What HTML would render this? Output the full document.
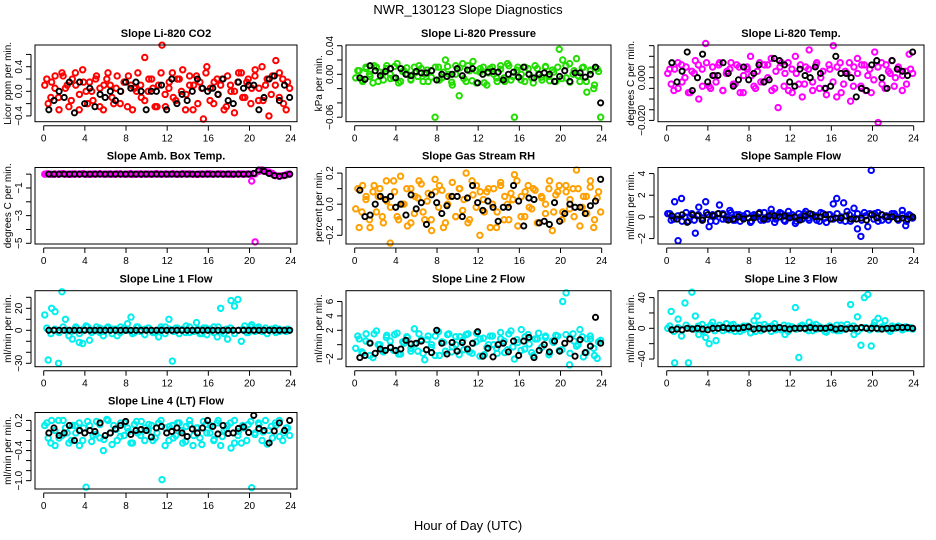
<!DOCTYPE html>
<html><head><meta charset="utf-8"><style>
html,body{margin:0;padding:0;background:#fff;}
svg{display:block;font-family:"Liberation Sans",Arial,sans-serif;}
</style></head><body>
<svg id="chart" width="936" height="540" viewBox="0 0 936 540" xmlns="http://www.w3.org/2000/svg">
<rect x="0" y="0" width="936" height="540" fill="#fff"/>
<text x="468" y="14" font-size="13" text-anchor="middle">NWR_130123  Slope Diagnostics</text>
<text x="468" y="530" font-size="13" text-anchor="middle">Hour of Day (UTC)</text>
</svg>
<script>
// ---- data (colored = all samples in two interleaved sets, black = half-hourly summary) ----
const xTicks = [0,4,8,12,16,20,24];
const co2Color = [0.1,-0.2,0.15,0.25,-0.1,0.3,0.05,-0.25,0.2,0.1,-0.3,0.35,0.0,0.15,-0.15,0.25,0.05,-0.3,0.2,0.1,-0.2,0.25,0.0,0.15,-0.25,0.1,0.05,0.3,-0.1,0.55,0.0,0.2,-0.25,0.1,0.75,-0.25,0.05,0.3,-0.15,0.2,0.35,-0.05,0.1,-0.3,0.25,0.15,-0.45,0.4,0.05,-0.2,0.2,0.1,-0.3,0.25,0.0,-0.35,0.15,0.3,-0.1,0.2,0.05,0.35,-0.15,0.4,0.1,-0.4,0.25,0.5,-0.1,0.2,-0.3,0.05];
const co2Color2 = [0.2,-0.1,0.05,-0.3,0.25,0.1,-0.15,0.3,-0.05,0.15,-0.2,0.0,0.2,-0.25,0.1,0.3,-0.1,0.05,-0.2,0.15,0.25,-0.3,0.0,0.1,-0.15,0.2,0.05,-0.25,0.3,-0.05,0.15,-0.1,0.2,0.0,-0.3,0.25,0.1,-0.2,0.05,0.3,-0.15,0.15,-0.05,0.2,-0.25,0.1,0.0,0.3,-0.1,0.15,-0.2,0.25,0.05,-0.15,0.2,-0.05,0.1,0.3,-0.2,0.15];
const co2Black = [-0.3,-0.15,0.0,-0.1,0.15,-0.35,0.15,-0.2,0.05,-0.25,-0.05,-0.1,0.0,-0.15,0.0,0.15,0.05,0.15,0.0,-0.3,0.0,0.0,0.1,-0.3,0.2,-0.2,-0.05,-0.15,0.0,0.2,0.05,0.0,0.05,-0.05,0.2,-0.15,-0.2,0.15,0.05,0.1,0.1,-0.3,-0.1,0.2,0.25,-0.15,0.1,-0.1];
const presColor = [-0.005,0.005,-0.01,0.008,0.0,-0.012,0.01,0.003,-0.008,0.012,0.0,-0.005,0.015,-0.01,0.005,0.0,-0.008,0.01,-0.003,0.008,0.0,-0.01,0.005,-0.06,0.01,-0.005,0.02,0.0,-0.015,0.012,-0.03,0.015,-0.01,0.005,0.018,-0.012,0.003,0.01,-0.015,0.008,0.0,-0.01,0.012,-0.005,0.015,-0.008,-0.06,0.01,0.0,-0.01,0.008,-0.005,0.012,0.0,-0.008,0.01,-0.003,0.006,-0.01,0.035,0.02,-0.005,0.015,0.0,0.022,-0.01,0.01,-0.025,0.005,-0.02,0.008,-0.06];
const presColor2 = [0.005,-0.008,0.01,-0.003,0.012,-0.01,0.0,0.008,-0.006,0.011,-0.012,0.004,0.009,-0.007,0.002,0.012,-0.01,0.006,-0.004,0.01,-0.008,0.003,0.011,-0.011,0.0,0.009,-0.006,0.012,-0.009,0.005,0.008,-0.012,0.002,0.01,-0.005,0.007,-0.01,0.012,-0.003,0.006,-0.008,0.01,0.0,-0.012,0.008,-0.004,0.011,-0.009,0.003,0.01,-0.006,0.012,-0.011,0.005,-0.002,0.009,-0.01,0.006,-0.015,0.004];
const presBlack = [-0.005,-0.007,0.012,0.005,-0.002,0.004,0.008,-0.005,0.008,0.0,-0.002,0.004,0.002,0.002,0.005,-0.008,0.0,-0.003,0.0,0.008,-0.002,0.006,0.008,-0.012,0.0,0.003,0.004,0.003,-0.008,0.0,0.003,-0.004,0.01,0.0,-0.005,0.0,0.002,0.0,-0.01,-0.003,0.005,-0.01,0.002,0.002,-0.004,0.0,0.01,-0.04];
const tempColor = [0.002,-0.003,0.004,-0.005,0.006,0.0,-0.007,0.003,0.008,-0.01,0.004,0.016,-0.004,0.005,-0.002,0.007,-0.006,0.002,0.004,-0.003,0.006,-0.007,0.001,0.005,0.01,-0.004,0.003,-0.002,0.006,0.0,0.009,-0.005,-0.014,0.007,0.002,-0.006,0.004,0.01,-0.003,-0.009,0.005,0.013,-0.002,0.006,-0.005,0.003,-0.008,0.004,0.015,-0.009,0.007,-0.003,0.002,-0.011,0.005,0.009,-0.004,0.006,0.001,-0.007,0.012,-0.021,0.007,-0.005,0.003,0.008,0.0,0.004,-0.006,0.003,0.011,0.002];
const tempColor2 = [0.004,-0.006,0.007,-0.002,0.005,-0.007,0.002,0.006,-0.004,0.007,-0.005,0.001,0.006,-0.006,0.003,0.007,-0.003,0.005,-0.007,0.004,0.001,-0.005,0.007,-0.002,0.006,-0.006,0.003,0.005,-0.004,0.007,-0.007,0.002,0.006,-0.003,0.004,-0.006,0.007,0.0,-0.005,0.006,-0.002,0.005,-0.007,0.003,0.007,-0.004,0.002,0.006,-0.006,0.004,-0.001,0.005,-0.003,0.006,0.002,-0.004,0.005,0.001,-0.003,0.004];
const tempBlack = [0.007,-0.002,0.003,0.012,-0.006,0.0,0.011,-0.002,0.001,0.001,0.007,0.002,-0.004,-0.001,0.005,-0.001,0.002,0.006,-0.002,-0.001,0.009,0.008,0.006,-0.002,-0.004,0.004,0.001,0.0,0.005,0.002,-0.005,-0.004,0.01,0.002,0.002,0.0,-0.009,-0.005,-0.006,0.006,0.008,0.0,-0.005,0.008,0.004,0.003,0.001,0.012];
const ambColor = [0,0.02,-0.02,0.01,0,0.03,0,-0.01,0.02,0,0.01,0.03,-0.02,0,0.01,0,0.02,-0.01,0,0.01,0,0.02,0,-0.01,0,0.03,0,0.01,-0.02,0,0.01,0,0.02,0,-0.01,0.01,0,0.02,-0.01,0,0.03,0,0.01,0,-0.02,0.01,0,0.02,0,-0.01,0.01,0.02,0,0.01,-0.02,0,0.01,0.02,0,0.01,-0.5,-4.9,0.25,0.3,0.2,0.15,0.05,-0.1,-0.15,-0.1,-0.05,0];
const ambColor2 = [0.02,0,-0.01,0.01,0.03,0,-0.02,0.01,0,0.02,0,-0.01,0.01,0.03,0,0.01,-0.01,0,0.02,0,0.01,-0.02,0,0.02,0.01,0,-0.01,0.03,0,0.01,0,0.02,-0.01,0,0.01,0.02,0,-0.02,0.01,0,0.03,0,0.01,-0.01,0,0.02,0,0.01,0,0.01,0,0.02,0.2,0.28,0.15,0.05,-0.1,-0.15,-0.1,0];
const ambBlack = [0,0,0,0,0,0,0,0,0,0,0,0,0,0,0,0,0,0,0,0,0,0,0,0,0,0,0,0,0,0,0,0,0,0,0,0,0,0,0,0,0.05,0.3,0.2,0.05,-0.1,-0.15,-0.1,0];
const rhColor = [-0.03,-0.15,0.12,0.05,-0.1,0.08,-0.05,0.1,-0.12,0.02,-0.25,0.15,-0.08,0.18,0.0,-0.14,0.1,-0.06,0.04,0.13,-0.1,0.07,-0.17,0.16,-0.02,0.09,-0.12,0.05,0.14,-0.08,0.1,-0.04,0.2,-0.1,0.06,0.12,-0.2,0.03,0.08,-0.15,0.1,-0.05,0.14,-0.1,0.0,0.07,0.19,-0.14,0.05,-0.08,0.12,-0.03,0.09,-0.12,0.04,-0.06,0.1,-0.17,0.06,0.12,-0.05,0.08,-0.03,0.1,0.22,-0.14,0.05,-0.06,0.11,-0.15,0.04,-0.05];
const rhColor2 = [0.1,-0.05,0.03,-0.15,0.12,0.05,-0.08,0.15,-0.02,0.08,-0.1,0.0,0.1,-0.12,0.05,0.15,-0.05,0.02,-0.1,0.08,0.12,-0.15,0.0,0.05,-0.08,0.1,0.03,-0.12,0.15,-0.02,0.08,-0.05,0.1,0.0,-0.15,0.12,0.05,-0.1,0.03,0.15,-0.08,0.08,-0.02,0.1,-0.12,0.05,0.0,0.15,-0.05,0.08,-0.1,0.12,0.03,-0.08,0.1,-0.02,0.05,0.15,-0.1,0.08];
const rhBlack = [0.09,-0.08,-0.07,0.0,0.05,0.03,0.05,-0.02,0.0,-0.07,0.06,-0.03,0.01,-0.13,0.06,0.01,-0.06,-0.01,0.05,0.05,-0.08,0.04,0.12,0.01,-0.04,0.02,-0.02,-0.11,-0.02,-0.02,0.12,0.02,-0.14,0.04,0.03,-0.12,-0.11,-0.13,0.01,-0.11,-0.06,0.0,-0.02,-0.02,-0.06,-0.01,0.02,0.16];
const sampColor = [0.3,-0.3,1.4,-2.2,1.7,0.0,-0.4,0.3,-1.5,0.9,-0.3,1.4,-0.9,0.2,-0.4,1.1,0.3,-0.2,0.6,-0.3,0.2,-0.4,0.1,0.3,-0.5,0.2,0.0,-0.3,0.4,-0.2,0.7,-0.5,0.2,0.3,-0.4,0.5,0.0,-0.6,0.3,-0.2,0.5,-0.3,0.2,0.1,-0.4,0.3,-0.5,0.2,1.2,1.7,-0.3,1.3,0.5,-0.4,0.8,-1.1,-1.8,0.4,-0.9,4.3,0.3,-0.4,0.2,0.0,-0.3,0.3,0.1,-0.2,0.6,-0.8,0.2,-0.1];
const sampColor2 = [0.3,-0.2,0.1,-0.4,0.4,0.0,-0.3,0.2,-0.1,0.4,-0.4,0.1,0.3,-0.2,0.0,0.4,-0.3,0.2,-0.1,0.3,-0.4,0.1,0.4,-0.3,0.0,0.3,-0.2,0.4,-0.3,0.1,0.2,-0.4,0.0,0.3,-0.1,0.2,-0.3,0.4,-0.1,0.2,-0.2,0.3,0.0,-0.4,0.2,-0.1,0.3,-0.3,0.1,0.3,-0.2,0.4,-0.3,0.1,0.0,0.3,-0.3,0.2,-0.4,0.1];
const sampBlack = [0.1,-0.2,0.2,-0.5,0.2,0.1,-0.3,0.2,0.1,0.3,0.2,-0.3,-0.2,0.0,-0.2,-0.1,-0.1,0.3,-0.2,0.1,0.1,0.0,0.1,-0.1,0.0,-0.3,0.1,0.3,0.0,0.0,0.2,-0.2,-0.1,-0.1,0.1,-0.2,-0.2,-0.1,-0.3,0.2,-0.1,0.2,0.0,0.0,-0.2,-0.1,-0.2,0.0];
const l1Color = [14,-27,20,17,-30,35,10,-5,-8,3,-11,-12,4,-9,0,3,-2,-5,2,0,1,-5,3,0,6,12,-2,3,0,-4,2,0,-2,-6,1,3,10,-28,2,-3,1,4,-2,0,7,-3,2,-4,1,3,-6,20,-3,-8,27,22,28,-10,4,-2,5,0,3,-1,2,0,1,-2,1,0,-1,0];
const l1Color2 = [2,-3,1,-2,3,0,-1,2,-3,1,3,-2,0,2,-1,3,-3,1,-2,2,0,-3,3,-1,1,2,-2,0,3,-3,1,-1,2,0,-2,3,-1,1,-3,2,0,-2,3,-1,1,2,-3,0,1,-2,3,-1,2,0,-3,1,2,-1,0,1];
const l1Black = [0,0,0,0,0,0,0,0,0,0,0,0,0,0,0,0,0,0,0,0,0,0,0,0,0,0,0,0,0,0,0,0,0,0,0,0,0,0,0,0,0,0,0,0,0,0,0,0];
const l2Color = [-0.5,0.8,-1.2,1.5,0.3,-1.8,1.9,0.0,-1.0,1.3,0.5,-0.8,1.6,-1.3,0.2,1.0,-0.5,2.2,-0.9,0.7,-2.1,1.2,0.0,-1.5,1.8,0.4,-0.9,1.5,-0.3,1.1,-1.4,0.6,1.4,-1.0,0.2,1.6,-1.6,0.9,-0.4,1.2,0.0,-1.2,1.7,0.5,-0.7,1.9,-2.0,0.3,2.1,-0.6,1.4,-1.1,0.8,1.6,-0.3,1.0,-1.4,0.5,1.3,-0.8,6.0,7.2,-2.8,1.5,-0.2,2.1,-1.7,0.8,1.2,-0.5,-1.9,0.6];
const l2Color2 = [1.2,-1.0,0.5,-1.5,1.5,0.0,-0.8,1.0,-0.3,1.4,-1.3,0.4,1.1,-0.9,0.1,1.5,-1.2,0.7,-0.4,1.2,-1.5,0.3,1.4,-1.0,0.0,1.1,-0.7,1.5,-1.2,0.4,0.8,-1.4,0.0,1.2,-0.5,0.8,-1.1,1.5,-0.3,0.7,-0.8,1.1,0.1,-1.5,0.8,-0.4,1.2,-1.1,0.3,1.2,-0.7,1.4,-1.2,0.5,0.0,1.1,-1.1,0.8,-1.5,0.4];
const l2Black = [-1.8,-1.5,0.2,-1.2,-0.6,-0.8,-0.4,-0.8,-0.6,0.6,0.1,0.2,0.5,-0.7,-1.1,2.0,0.2,-1.3,0.3,-0.9,0.3,-0.6,0.2,1.8,-1.6,-0.5,-1.7,0.0,0.2,-1.0,0.5,-1.5,0.5,1.0,-1.8,-0.8,0.0,-1.0,0.5,-0.9,0.2,0.8,-1.6,0.7,-1.1,-0.2,3.8,0.2];
const l3Color = [0,22,-45,12,-10,33,-45,47,16,-8,5,-12,-20,8,-16,4,-3,6,-2,5,0,-4,3,0,-6,10,16,-3,5,2,-4,6,0,-2,-8,3,2,27,-38,4,-1,8,-3,5,2,0,-5,3,-2,4,-3,0,5,31,-8,15,-22,40,44,-23,8,13,0,10,-2,3,0,1,-2,2,0,-1];
const l3Color2 = [3,-4,1,-2,4,0,-1,3,-4,1,4,-3,0,2,-1,4,-4,1,-2,3,0,-4,4,-1,1,3,-2,0,4,-4,1,-1,3,0,-3,4,-1,1,-4,2,0,-3,4,-1,1,3,-4,0,1,-2,4,-1,2,0,-4,1,3,-1,0,1];
const l3Black = [-2,-1,-2,0,-1,0,-1,-2,0,0,1,0,0,0,1,2,-1,0,-1,0,0,1,0,-1,0,0,0,1,0,0,0,1,-1,0,-1,0,0,1,0,0,0,-1,0,0,1,1,1,0];
const l4Color = [0.1,-0.15,0.2,-0.3,0.2,-0.1,0.05,-0.25,0.1,-0.05,0.15,-0.2,-1.13,0.1,-0.1,0.18,-0.15,-0.4,0.22,-0.05,0.1,-0.2,0.15,-0.1,0.05,-0.25,0.12,-0.05,0.18,-0.2,0.0,0.1,-0.15,0.15,-0.98,0.05,-0.2,0.1,-0.1,0.15,-0.25,0.08,0.12,-0.3,0.05,-0.15,0.18,-0.05,0.1,-0.2,0.15,-0.3,0.0,0.1,-0.35,0.2,-0.1,-0.25,0.05,0.12,-1.14,-0.05,0.15,-0.2,0.2,0.0,-0.15,0.1,0.2,-0.2,0.05,-0.1];
const l4Color2 = [0.15,-0.25,0.0,-0.15,0.2,-0.05,-0.2,0.1,-0.3,0.05,0.18,-0.22,-0.08,0.12,-0.18,0.2,-0.28,0.02,-0.12,0.15,-0.02,-0.25,0.18,-0.1,0.05,0.12,-0.2,-0.05,0.2,-0.3,0.08,-0.15,0.15,0.0,-0.22,0.2,-0.1,0.05,-0.28,0.12,-0.05,-0.18,0.2,-0.12,0.03,0.15,-0.25,-0.02,0.1,-0.2,0.18,-0.08,0.12,-0.03,-0.27,0.08,0.15,-0.12,-0.05,0.05];
const l4Black = [-0.05,0.05,-0.1,-0.05,0.1,-0.2,0.0,-0.05,0.0,-0.02,0.15,-0.1,-0.05,0.03,0.1,0.18,-0.08,0.0,0.02,0.0,-0.13,0.05,0.08,-0.05,-0.02,0.05,-0.05,-0.12,0.03,-0.05,0.05,0.2,0.08,-0.07,0.1,-0.06,-0.05,0.04,0.07,-0.04,0.3,0.04,0.0,-0.25,-0.01,0.15,0.0,0.2];

// ---- panel layout ----
const panels = [
 {name:'co2',col:0,row:0,title:'Slope Li-820 CO2',ylab:'Licor ppm per min.',top:0.753,bot:-0.494,ticks:[-0.4,-0.2,0,0.2,0.4,0.6],labs:['-0.4','','0.0','','0.4',''],color:'#ff0000',c:co2Color,c2:co2Color2,k:co2Black},
 {name:'pressure',col:1,row:0,title:'Slope Li-820 Pressure',ylab:'kPa per min.',top:0.041,bot:-0.0663,ticks:[-0.06,-0.04,-0.02,0,0.02,0.04],labs:['-0.06','','','0.00','','0.04'],color:'#22dd00',c:presColor,c2:presColor2,k:presBlack},
 {name:'temp',col:2,row:0,title:'Slope Li-820 Temp.',ylab:'degrees C per min.',top:0.0153,bot:-0.0206,ticks:[-0.02,-0.015,-0.01,-0.005,0,0.005,0.01,0.015],labs:['-0.020','','','','0.000','','',''],color:'#ff00ff',c:tempColor,c2:tempColor2,k:tempBlack},
 {name:'amb-box-temp',col:0,row:1,title:'Slope Amb. Box Temp.',ylab:'degrees C per min.',top:0.48,bot:-5.05,ticks:[-5,-4,-3,-2,-1,0],labs:['-5','','-3','','-1',''],color:'#ff00ff',c:ambColor,c2:ambColor2,k:ambBlack},
 {name:'gas-stream-rh',col:1,row:1,title:'Slope Gas Stream RH',ylab:'percent per min.',top:0.236,bot:-0.256,ticks:[-0.2,-0.1,0,0.1,0.2],labs:['-0.2','','0.0','','0.2'],color:'#ffa000',c:rhColor,c2:rhColor2,k:rhBlack},
 {name:'sample-flow',col:2,row:1,title:'Slope Sample Flow',ylab:'ml/min per min.',top:4.56,bot:-2.5,ticks:[-2,0,2,4],labs:['-2','0','2','4'],color:'#0000ff',c:sampColor,c2:sampColor2,k:sampBlack},
 {name:'line1-flow',col:0,row:2,title:'Slope Line 1 Flow',ylab:'ml/min per min.',top:36,bot:-33.1,ticks:[-30,-20,-10,0,10,20,30],labs:['-30','','','0','','20',''],color:'#00eeee',c:l1Color,c2:l1Color2,k:l1Black},
 {name:'line2-flow',col:1,row:2,title:'Slope Line 2 Flow',ylab:'ml/min per min.',top:7.5,bot:-3.06,ticks:[-2,0,2,4,6],labs:['-2','','2','4','6'],color:'#00eeee',c:l2Color,c2:l2Color2,k:l2Black},
 {name:'line3-flow',col:2,row:2,title:'Slope Line 3 Flow',ylab:'ml/min per min.',top:49,bot:-50,ticks:[-40,-20,0,20,40],labs:['-40','','0','','40'],color:'#00eeee',c:l3Color,c2:l3Color2,k:l3Black},
 {name:'line4-flow',col:0,row:3,title:'Slope Line 4 (LT) Flow',ylab:'ml/min per min.',top:0.358,bot:-1.166,ticks:[-1,-0.8,-0.6,-0.4,-0.2,0,0.2],labs:['-1.0','','','-0.4','','','0.2'],color:'#00eeee',c:l4Color,c2:l4Color2,k:l4Black}
];
const colLeft=[35,346,658], colRight=[297,611,924];
const rowTop=[45,167.5,290.7,412.5], rowBot=[121.7,244,366.7,489];
const NS='http://www.w3.org/2000/svg';
const svg=document.getElementById('chart');
function mk(tag,attrs,parent){const e=document.createElementNS(NS,tag);for(const a in attrs)e.setAttribute(a,attrs[a]);(parent||svg).appendChild(e);return e;}

panels.forEach(p=>{
  const L=colLeft[p.col],R=colRight[p.col],T=rowTop[p.row],B=rowBot[p.row];
  const xs=h=>L+8.7+h*10.29;
  const ys=v=>T+(p.top-v)/(p.top-p.bot)*(B-T);
  const g=mk('g',{});
  
  
  const t=mk('text',{x:(L+R)/2,y:T-8,'font-size':11,'font-weight':'bold','text-anchor':'middle'},g);
  t.textContent=p.title;
  
  
  const pts=mk('g',{fill:'none'},g);
  
  
  const n2=p.c2.length;
  p.c2.forEach((v,i)=>{
    const h=0.3+i*23.4/(n2-1);
    const c=mk('circle',{cx:xs(h),cy:ys(v),r:2.7,stroke:p.color,'stroke-width':2},pts);
    
    
  });
  const nC=p.c.length;
  p.c.forEach((v,i)=>{
    const h=0.1+i*23.8/(nC-1);
    const c=mk('circle',{cx:xs(h),cy:ys(v),r:2.7,stroke:p.color,'stroke-width':2},pts);
    
    
  });
  const kp=mk('g',{fill:'none'},g);
  
  
  const nK=p.k.length;
  p.k.forEach((v,i)=>{
    const h=0.5+i*23.4/(nK-1);
    const c=mk('circle',{cx:xs(h),cy:ys(v),r:2.6,stroke:'#000','stroke-width':1.9},kp);
    
    
  });
  const fr=mk('rect',{x:L,y:T,width:R-L,height:B-T,fill:'none',stroke:'#000','stroke-width':1},g);
  
  
  const xa=mk('g',{},g);
  
  
  mk('line',{x1:xs(0),x2:xs(24),y1:B+4,y2:B+4,stroke:'#000'},xa);
  xTicks.forEach(tk=>{
    mk('line',{x1:xs(tk),x2:xs(tk),y1:B+4,y2:B+9,stroke:'#000'},xa);
    const tl=mk('text',{x:xs(tk),y:B+20,'font-size':10,'text-anchor':'middle'},xa);
    tl.textContent=tk;
    
    
  });
  const ya=mk('g',{},g);
  
  
  const ax=L-4;
  mk('line',{x1:ax,x2:ax,y1:ys(p.ticks[0]),y2:ys(p.ticks[p.ticks.length-1]),stroke:'#000'},ya);
  p.ticks.forEach((tk,i)=>{
    const y=ys(tk);
    mk('line',{x1:ax-5,x2:ax,y1:y,y2:y,stroke:'#000'},ya);
    if(p.labs[i]){
      const tl=mk('text',{x:0,y:0,'font-size':10,'text-anchor':'middle',transform:`translate(${ax-9},${y}) rotate(-90)`},ya);
      tl.textContent=p.labs[i].replace('-','\u2212');
      
      
    }
  });
  const yl=mk('text',{x:0,y:0,'font-size':10,'text-anchor':'middle',transform:`translate(${L-24},${(T+B)/2}) rotate(-90)`},g);
  yl.textContent=p.ylab;
  
  
});
</script>
</body></html>
